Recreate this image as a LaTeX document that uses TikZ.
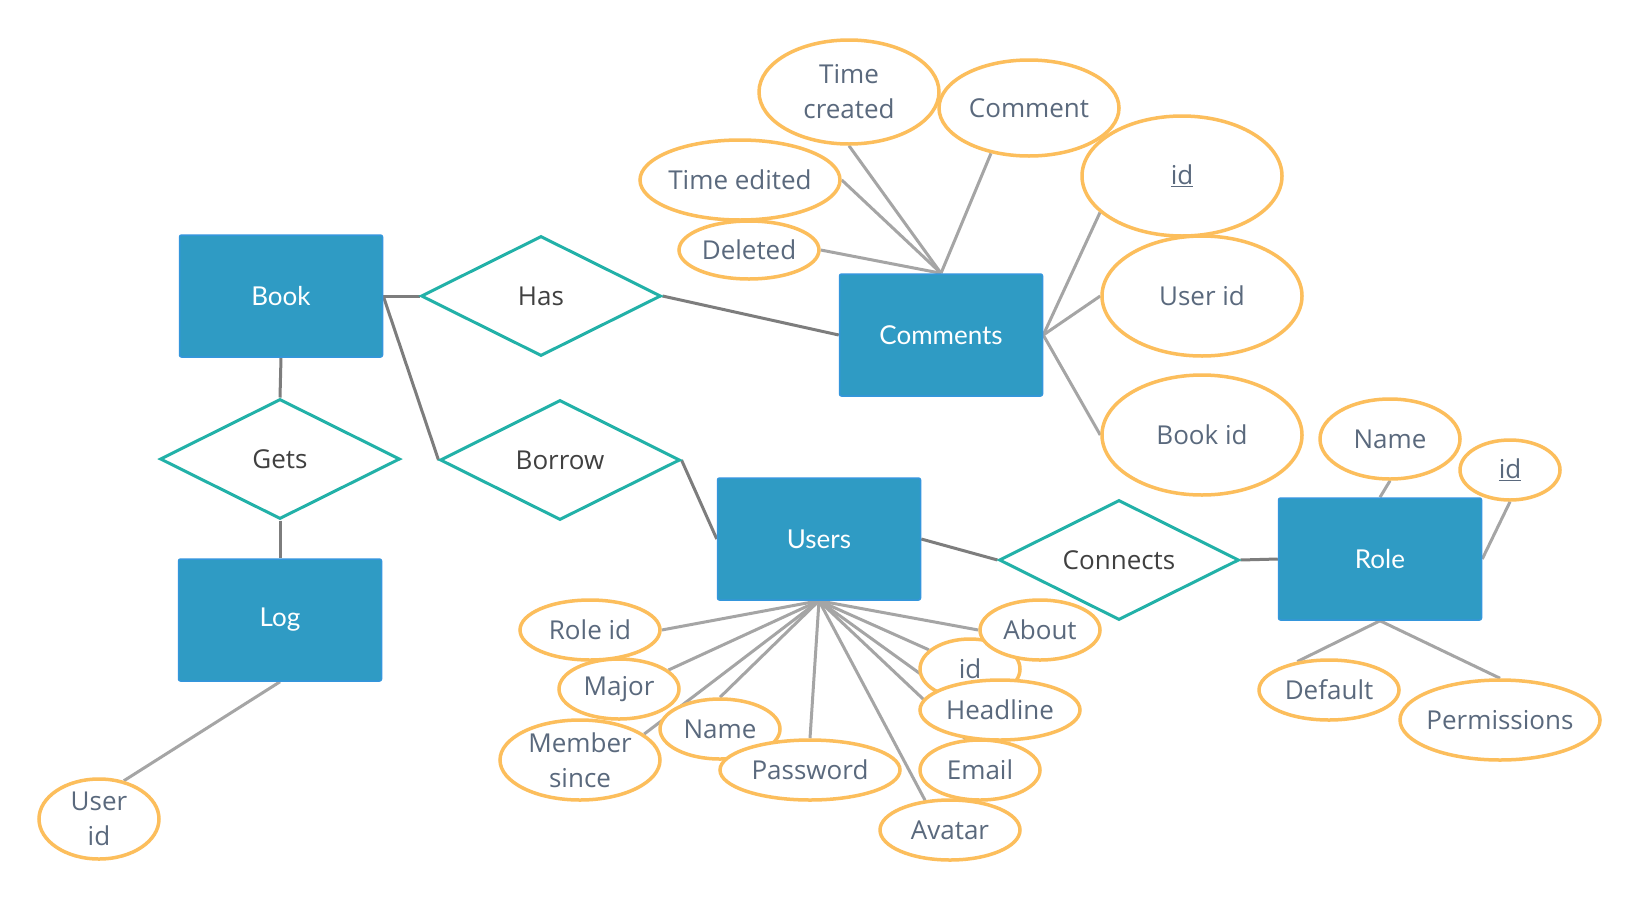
\documentclass[tikz,border=0pt]{standalone}
\usepackage{fontspec}
\setmainfont{Open Sans}
\newfontfamily\latofont{Lato}
\usetikzlibrary{shapes.geometric,backgrounds}

\definecolor{entblue}{RGB}{47,155,196}
\definecolor{entedge}{RGB}{52,150,220}
\definecolor{relteal}{RGB}{34,177,168}
\definecolor{attrorange}{RGB}{252,190,92}
\definecolor{attrtext}{RGB}{90,105,125}
\definecolor{reltext}{RGB}{64,64,64}
\definecolor{linkgray}{RGB}{125,125,125}
\definecolor{attrgray}{RGB}{165,165,165}

\begin{document}
\begin{tikzpicture}[x=1pt,y=-1pt,
	every node/.style={font=\fontsize{26}{35}\selectfont},
	entity/.style={rectangle,rounded corners=2pt,fill=entblue,draw=entedge,line width=1.5pt,
		minimum width=203pt,minimum height=122pt,text=white,font=\fontsize{26}{35}\selectfont\latofont},
	rel/.style={diamond,aspect=2,draw=relteal,line width=3pt,fill=white,
		minimum width=240pt,minimum height=120pt,inner sep=0pt,text=reltext},
	attr/.style={ellipse,draw=attrorange,line width=3.5pt,fill=white,inner xsep=-30pt,inner ysep=-15pt,
		text=attrtext,align=center},
	link/.style={draw=linkgray,line width=3pt},
	alink/.style={draw=attrgray,line width=3pt}]

	\useasboundingbox (0,0) rectangle (1640,900);

	% entities and relations
	\node[entity] (book) at (281,296) {Book};
	\node[rel] (has) at (541,296) {Has};
	\node[rel] (gets) at (280,459) {Gets};
	\node[rel] (borrow) at (560,460) {Borrow};
	\node[entity] (log) at (280,620) {Log};
	\node[entity] (comments) at (941,335) {Comments};
	\node[entity] (users) at (819,539) {Users};
	\node[rel] (connects) at (1119,560) {Connects};
	\node[entity] (role) at (1380,559) {Role};

	% comments attributes
	\node[attr,minimum width=180pt,minimum height=104pt] (tcreated) at (849,92) {Time\\created};
	\node[attr,minimum width=180pt,minimum height=96pt] (comment) at (1029,108) {Comment};
	\node[attr,minimum width=200pt,minimum height=80pt] (tedited) at (740,180) {Time edited};
	\node[attr,minimum width=140pt,minimum height=58pt] (deleted) at (749,250) {Deleted};
	\node[attr,minimum width=200pt,minimum height=120pt] (cid) at (1182,176) {\underline{id}};
	\node[attr,minimum width=200pt,minimum height=120pt] (cuser) at (1202,296) {User id};
	\node[attr,minimum width=200pt,minimum height=120pt] (cbook) at (1202,435) {Book id};

	% role attributes
	\node[attr,minimum width=140pt,minimum height=80pt] (rname) at (1390,439) {Name};
	\node[attr,minimum width=100pt,minimum height=60pt] (rid) at (1510,470) {\underline{id}};
	\node[attr,minimum width=140pt,minimum height=60pt] (rdefault) at (1329,690) {Default};
	\node[attr,minimum width=200pt,minimum height=80pt] (rperm) at (1500,720) {Permissions};

	% log attribute
	\node[attr,minimum width=120pt,minimum height=80pt] (luser) at (99,819) {User\\id};

	% users attributes
	\node[attr,minimum width=140pt,minimum height=60pt] (roleid) at (590,630) {Role id};
	\node[attr,minimum width=120pt,minimum height=60pt] (major) at (619,689) {Major};
	\node[attr,minimum width=160pt,minimum height=80pt] (member) at (580,760) {Member\\since};
	\node[attr,minimum width=120pt,minimum height=60pt] (uname) at (720,729) {Name};
	\node[attr,minimum width=180pt,minimum height=60pt] (password) at (810,770) {Password};
	\node[attr,minimum width=100pt,minimum height=60pt] (uid) at (970,669) {id};
	\node[attr,minimum width=120pt,minimum height=60pt] (about) at (1040,630) {About};
	\node[attr,minimum width=160pt,minimum height=60pt] (headline) at (1000,710) {Headline};
	\node[attr,minimum width=120pt,minimum height=60pt] (email) at (980,770) {Email};
	\node[attr,minimum width=140pt,minimum height=60pt] (avatar) at (950,830) {Avatar};

	\begin{pgfonlayer}{background}
	\fill[white] (0,0) rectangle (1640,900);
	% relation lines
	\draw[link] (book.east) -- (has.west);
	\draw[link] (book.east) -- (borrow.west);
	\draw[link] (book.south) -- (gets.north);
	\draw[link] (gets.south) -- (log.north);
	\draw[link] (has.east) -- (comments.west);
	\draw[link] (borrow.east) -- (users.west);
	\draw[link] (users.east) -- (connects.west);
	\draw[link] (connects.east) -- (role.west);
	% attribute lines
	\draw[alink] (comments.north) -- (tcreated.south);
	\draw[alink] (comments.north) -- (comment.230);
	\draw[alink] (comments.north) -- (tedited.east);
	\draw[alink] (comments.north) -- (deleted.east);
	\draw[alink] (comments.east) -- (cid.204);
	\draw[alink] (comments.east) -- (cuser.west);
	\draw[alink] (comments.east) -- (cbook.west);
	\draw[alink] (role.north) -- (rname.south);
	\draw[alink] (role.east) -- (rid.south);
	\draw[alink] (role.south) -- (rdefault.138);
	\draw[alink] (role.south) -- (rperm.north);
	\draw[alink] (log.south) -- (luser.57);
	\draw[alink] (users.south) -- (roleid.east);
	\draw[alink] (users.south) -- (major.21);
	\draw[alink] (users.south) -- (member.22);
	\draw[alink] (users.south) -- (uname.north);
	\draw[alink] (users.south) -- (password.north);
	\draw[alink] (users.south) -- (avatar.130);
	\draw[alink] (users.south) -- (email.115);
	\draw[alink] (users.south) -- (headline.160);
	\draw[alink] (users.south) -- (uid.155);
	\draw[alink] (users.south) -- (about.west);
	\end{pgfonlayer}
\end{tikzpicture}
\end{document}
